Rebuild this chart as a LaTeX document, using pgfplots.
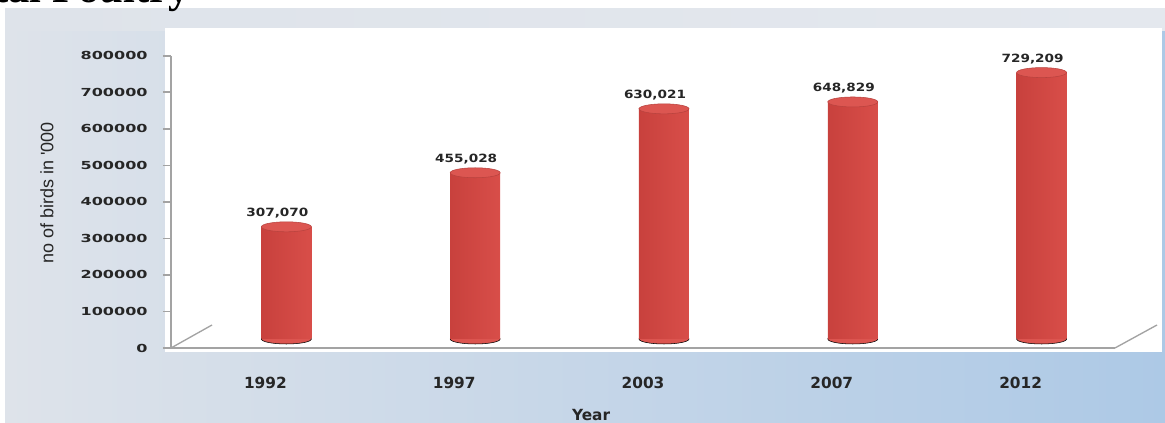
\documentclass[border=0pt]{standalone}
\usepackage{fontspec}
\usepackage{pgfplots}
\pgfplotsset{compat=1.18}
\setmainfont{DejaVu Sans}
\newfontfamily\ytf[FakeStretch=1.45]{DejaVu Sans}
\newfontfamily\xtf{DejaVu Sans}
\newfontfamily\dlf[FakeStretch=1.2]{DejaVu Sans}
\newfontfamily\ylf{Liberation Sans}
\newfontfamily\ttlf{Liberation Serif}
\definecolor{axgray}{HTML}{A3A3A3}
\definecolor{txt}{HTML}{262626}
\definecolor{barL}{HTML}{C8413D}
\definecolor{barM}{HTML}{F7776F}
\definecolor{barR}{HTML}{D84E49}
\definecolor{capC}{HTML}{DC5651}
\definecolor{botC}{HTML}{DC5550}
\definecolor{bgA}{HTML}{DEE3EA}
\definecolor{bgB}{HTML}{ADC9E6}
\definecolor{bgT}{HTML}{E4E8EE}
\pgfplotsset{cyl/.style={ybar, bar width=37.5pt, bar shift=0pt, draw=none,
   xshift=15.75pt, yshift=6.75pt, left color=barL, middle color=barM, right color=barR}}
\begin{document}
\begin{tikzpicture}
\path[use as bounding box] (0,0) rectangle (873.75pt,317.25pt);
\shade[left color=bgA, right color=bgB] (3.75pt,0) rectangle (873.75pt,310.5pt);
\shade[left color=bgA, right color=bgT] (3.75pt,294pt) rectangle (873.75pt,310.5pt);
\fill[white] (123.75pt,53.25pt) rectangle (871.5pt,296.25pt);
\node[anchor=base east, font=\ttlf\bfseries\fontsize{32}{34}\selectfont, text=black, inner sep=0pt] at (142.5pt,315pt) {Total Poultry};
\begin{axis}[
  at={(128.25pt,56.25pt)}, anchor=south west,
  scale only axis, width=708pt, height=219.2pt,
  xmin=-0.5, xmax=4.5, ymin=0, ymax=800000,
  axis x line*=bottom, axis y line*=left,
  axis line style={axgray, line width=1.3pt, -},
  xtick={0,1,2,3,4}, xticklabels={1992,1997,2003,2007,2012},
  x tick style={draw=none},
  ytick={0,100000,200000,300000,400000,500000,600000,700000,800000},
  scaled y ticks=false,
  y tick style={axgray, line width=1.2pt},
  tick align=outside, major tick length=6pt,
  /pgf/number format/assume math mode=true,
  y tick label style={font=\ytf\bfseries\fontsize{8.3}{9}\selectfont, text=txt, anchor=east, xshift=-8pt,
     /pgf/number format/.cd, fixed, precision=0, 1000 sep={}},
  x tick label style={font=\xtf\bfseries\fontsize{11.5}{13}\selectfont, text=txt, anchor=center, yshift=-20.25pt},
  xlabel={Year},
  xlabel style={at={(axis description cs:0.445,-0.229)}, anchor=center, font=\xtf\bfseries\fontsize{11.5}{13}\selectfont, text=txt},
  ylabel={no of birds in '000},
  ylabel style={at={(axis description cs:-0.1314,0.53)}, anchor=center, font=\ylf\fontsize{13.5}{15}\selectfont, text=txt},
  clip=false, clip marker paths=true,
]
% bottom ellipses of the cylinders
\addplot[only marks, draw=none, mark=*, mark size=3.75pt, xshift=15.75pt, yshift=6.75pt,
  mark options={draw=none, fill=botC, xscale=5}]
  coordinates {(0,0) (1,0) (2,0) (3,0) (4,0)};
% cylinder bodies, one per year
\addplot[cyl] coordinates {(0,307070)};
\addplot[cyl] coordinates {(1,455028)};
\addplot[cyl] coordinates {(2,630021)};
\addplot[cyl] coordinates {(3,648829)};
\addplot[cyl] coordinates {(4,729209)};
% cylinder tops
\addplot[only marks, mark=*, mark size=3.75pt, xshift=15.75pt, yshift=6.75pt,
  mark options={draw=barR!85!black, line width=0.4pt, fill=capC, xscale=5}]
  coordinates {(0,307070) (1,455028) (2,630021) (3,648829) (4,729209)};
% value labels
\addplot[draw=none, mark=none,
  nodes near coords={\pgfmathprintnumber[fixed,precision=0,1000 sep={,}]{\pgfplotspointmeta}},
  every node near coord/.append style={anchor=center, xshift=9pt, yshift=16.9pt,
     font=\dlf\bfseries\fontsize{8.5}{10}\selectfont, text=txt}]
  coordinates {(0,307070) (1,455028) (2,630021) (3,648829) (4,729209)};
% floor edges
\draw[axgray, line width=1pt] (axis cs:-0.5,0) -- ++(30.75pt,17.25pt);
\draw[axgray, line width=1pt] (axis cs:4.5,0) -- ++(31.5pt,17.25pt);
\end{axis}
\end{tikzpicture}
\end{document}
